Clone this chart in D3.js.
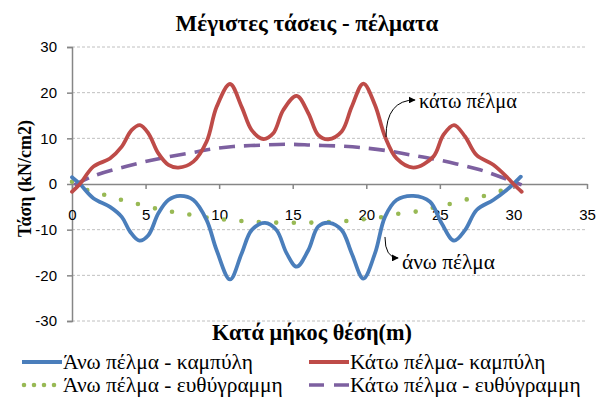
<!DOCTYPE html>
<html><head><meta charset="utf-8">
<script src="https://cdn.jsdelivr.net/npm/d3@7"></script>
<style>body{margin:0;background:#fff}svg{display:block}</style>
</head><body>
<svg id="c" width="604" height="401"></svg>
<script>
// ---- data ----
const title = "Μέγιστες τάσεις - πέλματα";
const xTitle = "Κατά μήκος θέση(m)";
const yTitle = "Τάση (kN/cm2)";
const xTicks = [0,5,10,15,20,25,30,35];
const yTicks = [-30,-20,-10,0,10,20,30];
const seriesNames = ["Άνω πέλμα - καμπύλη","Κάτω πέλμα- καμπύλη","Άνω πέλμα - ευθύγραμμη","Κάτω πέλμα - ευθύγραμμη"];

const upperCurveX = [0,0.54,1.45,2.58,3.38,3.94,4.58,5.19,5.87,6.55,7.34,8.25,9.15,9.83,10.74,11.53,12.21,13.12,13.9,14.59,15.27,16.06,16.74,17.49,18.33,19.01,19.8,20.59,21.27,22.06,23.2,24.33,25.12,25.96,26.71,27.5,28.63,29.54,30.0,30.5];
const upperCurveY = [1.5,0,-3.1,-5.0,-7.2,-10.4,-12.4,-11.2,-6.4,-3.5,-2.6,-3.5,-7.9,-14.5,-20.9,-15.2,-10.1,-8.5,-10.1,-15.2,-18.1,-14.5,-9.3,-8.5,-10.1,-15.2,-20.7,-15.2,-7.2,-3.5,-2.6,-3.9,-8.6,-12.4,-10.1,-5.7,-3.5,-1.3,0,1.6];

const lowerCurveX = [0,0.54,1.45,2.58,3.38,4.05,4.62,5.19,5.87,6.55,7.23,8.25,9.15,9.83,10.74,11.53,12.21,13.0,13.68,14.36,15.27,16.06,16.74,17.42,18.33,19.01,19.8,20.59,21.27,22.06,23.2,24.56,25.23,25.96,26.71,27.5,28.63,29.65,30.0,30.56];
const lowerCurveY = [-1.7,0,3.8,5.6,8.2,11.8,12.9,11.1,6.7,4.2,3.6,4.9,9.3,16.9,21.9,16.9,11.8,9.85,11.1,16.2,19.3,15.5,10.7,9.8,11.5,16.9,22.0,17.3,10.4,5.6,3.6,6.0,10.7,12.9,10.4,6.3,4.2,1.2,0,-1.7];

const upperLinX = [0,1.0,2.24,3.38,4.62,5.87,7.0,8.25,9.5,10.74,12.0,13.23,15.04,16.85,18.67,19.9,21.15,22.4,23.65,24.78,25.9,27.16,28.3,29.3,30.0];
const upperLinY = [0.5,-1.3,-2.4,-3.5,-4.5,-5.5,-6.2,-6.8,-7.5,-7.9,-8.2,-8.4,-8.5,-8.4,-8.1,-7.7,-7.2,-6.4,-5.9,-5.0,-4.2,-3.1,-2.4,-1.3,-0.2];

const lowerLinX = [0.16,1.45,3.72,5.98,8.25,9.38,10.96,12.78,14.59,16.4,18.2,19.57,21.4,22.97,24.56,26.14,27.73,29.09,30.56];
const lowerLinY = [-0.2,1.75,3.9,5.6,6.9,7.6,8.2,8.5,8.7,8.5,8.3,8.0,7.3,6.4,5.5,4.4,3.1,1.6,-0.2];

const notes = [
  {text:"κάτω πέλμα", tx:23.58, ty:18.2, from:[21.34,10.3], to:[23.31,18.4]},
  {text:"άνω πέλμα",  tx:22.43, ty:-17.1, from:[21.27,-11.6], to:[22.16,-16.2]}
];

// ---- layout ----
const svg = d3.select("#c");
const serif = "'Liberation Serif','Times New Roman',serif";
const sans = "'Liberation Sans',Arial,sans-serif";
const x = d3.scaleLinear().domain([0,35]).range([72,587]);
const y = d3.scaleLinear().domain([-30,30]).range([321,47]);
const colors = ["#4A7EBB","#BE4B48","#98B954","#7D60A0"];
function fit(sel, target){
  const w = sel.node().getComputedTextLength();
  sel.attr("font-size", (+sel.attr("font-size"))*target/w);
  return +sel.attr("font-size");
}

svg.append("defs").append("marker").attr("id","arr").attr("viewBox","0 0 10 10")
  .attr("refX",9).attr("refY",5).attr("markerWidth",7).attr("markerHeight",7)
  .attr("orient","auto").append("path").attr("d","M0,0 L10,5 L0,10 z").attr("fill","#000");

// gridlines
svg.append("g").selectAll("line").data(yTicks.filter(d=>d!==0)).join("line")
  .attr("x1",x(0)).attr("x2",x(35)).attr("y1",d=>y(d)).attr("y2",d=>y(d))
  .attr("stroke","#C0C0C0").attr("stroke-width",1).attr("stroke-dasharray","3,2");

const fmt = d => String(d);
// y axis
const ya = svg.append("g").attr("transform",`translate(${x(0)},0)`)
  .call(d3.axisLeft(y).tickValues(yTicks).tickFormat(fmt).tickSize(5).tickPadding(10));
ya.select(".domain").attr("stroke","#868686").attr("stroke-width",1.5);
ya.selectAll(".tick line").attr("stroke","#868686").attr("stroke-width",1.5);
ya.selectAll(".tick text").attr("font-family",sans).attr("font-size",15).attr("fill","#000");

// x axis at zero
const xa = svg.append("g").attr("transform",`translate(0,${y(0)})`)
  .call(d3.axisBottom(x).tickValues(xTicks).tickFormat(fmt).tickSize(5).tickPadding(20).tickSizeOuter(0));
xa.select(".domain").attr("stroke","#868686").attr("stroke-width",1.5);
xa.selectAll(".tick line").attr("stroke","#868686").attr("stroke-width",1.5);
xa.selectAll(".tick text").attr("font-family",sans).attr("font-size",15).attr("fill","#000");

// series
const mk = (xs,ys)=>xs.map((v,i)=>[v,ys[i]]);
const line = d3.line().x(d=>x(d[0])).y(d=>y(d[1])).curve(d3.curveCatmullRom.alpha(0.5));
const series = [
  {d:mk(upperLinX,upperLinY), c:colors[2], dash:"0,17.5", w:4.6, cap:"round"},
  {d:mk(lowerLinX,lowerLinY), c:colors[3], dash:"16,9", w:3.6, cap:"butt"},
  {d:mk(upperCurveX,upperCurveY), c:colors[0], dash:null, w:3.8, cap:"round"},
  {d:mk(lowerCurveX,lowerCurveY), c:colors[1], dash:null, w:3.8, cap:"round"}
];
svg.append("g").selectAll("path").data(series).join("path")
  .attr("d",s=>line(s.d)).attr("fill","none").attr("stroke",s=>s.c)
  .attr("stroke-width",s=>s.w).attr("stroke-dasharray",s=>s.dash).attr("stroke-linecap",s=>s.cap);

// annotations
notes.forEach((n,i)=>{
  const [x0,y0]=[x(n.from[0]),y(n.from[1])], [x1,y1]=[x(n.to[0]),y(n.to[1])];
  svg.append("path").attr("d",`M${x0},${y0} Q${x0},${y1} ${x1},${y1}`)
    .attr("fill","none").attr("stroke","#000").attr("stroke-width",1).attr("marker-end","url(#arr)");
  const t = svg.append("text").attr("x",x(n.tx)).attr("y",y(n.ty)).attr("dy","0.33em")
    .attr("font-family",serif).attr("font-size",17).text(n.text);
  fit(t, i===0 ? 98 : 93);
});

// titles
const tt = svg.append("text").attr("x",307).attr("y",31).attr("text-anchor","middle")
  .attr("font-family",serif).attr("font-weight","bold").attr("font-size",21).text(title);
fit(tt,263);
const xt = svg.append("text").attr("x",312).attr("y",340).attr("text-anchor","middle")
  .attr("font-family",serif).attr("font-weight","bold").attr("font-size",19).text(xTitle);
fit(xt,200);
const yt = svg.append("text").attr("transform","translate(31,178.5) rotate(-90)").attr("text-anchor","middle")
  .attr("font-family",serif).attr("font-weight","bold").attr("font-size",19).text(yTitle);
fit(yt,117);

// legend
const legPos = [[22,362],[309,362],[22,385],[309,385]];
const legStyle = [
  {c:colors[0],dash:null,w:3.8,cap:"butt"},
  {c:colors[1],dash:null,w:3.8,cap:"butt"},
  {c:colors[2],dash:"0,10",w:4.6,cap:"round"},
  {c:colors[3],dash:"15,10",w:3.6,cap:"butt"}
];
const lg = svg.append("g").selectAll("g").data(seriesNames).join("g")
  .attr("transform",(d,i)=>`translate(${legPos[i][0]},${legPos[i][1]})`);
lg.append("line").attr("x1",(d,i)=>i===2?2:0).attr("x2",40).attr("y1",0).attr("y2",0)
  .attr("stroke",(d,i)=>legStyle[i].c).attr("stroke-width",(d,i)=>legStyle[i].w)
  .attr("stroke-dasharray",(d,i)=>legStyle[i].dash).attr("stroke-linecap",(d,i)=>legStyle[i].cap);
const lt = lg.append("text").attr("x",41).attr("y",0).attr("dy","0.33em")
  .attr("font-family",serif).attr("font-size",18).text(d=>d);
const legSize = fit(d3.select(lt.nodes()[0]),190);
lt.attr("font-size",legSize);
</script>
</body></html>
